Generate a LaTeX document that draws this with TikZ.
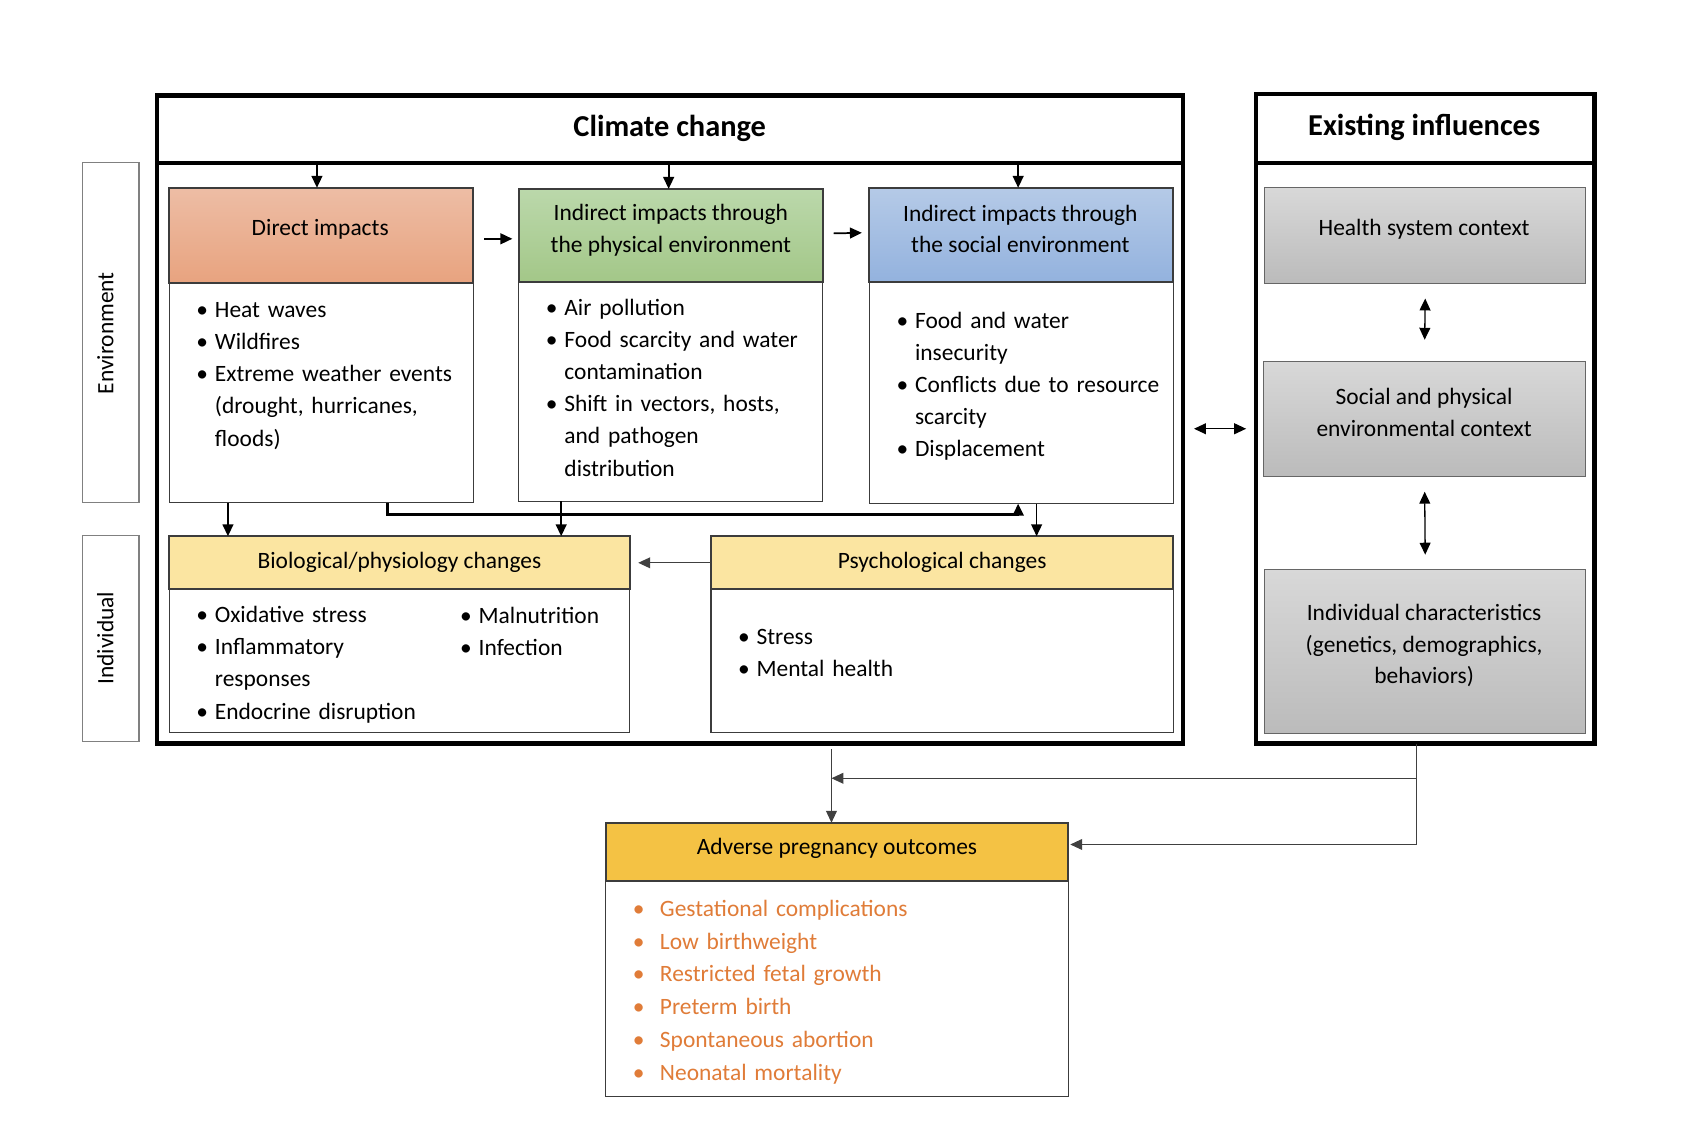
\documentclass[tikz,border=0pt]{standalone}
\usepackage{fontspec}
\setmainfont{Carlito}
\usetikzlibrary{arrows.meta,calc}
\definecolor{salT}{HTML}{EDBDA5}
\definecolor{salB}{HTML}{E8A37F}
\definecolor{grnT}{HTML}{BBD8AB}
\definecolor{grnB}{HTML}{A3C788}
\definecolor{bluT}{HTML}{B5CAE7}
\definecolor{bluB}{HTML}{93B2DE}
\definecolor{gryT}{HTML}{D8D8D8}
\definecolor{gryB}{HTML}{BBBBBB}
\definecolor{ylw}{HTML}{FBE5A1}
\definecolor{gold}{HTML}{F4C244}
\definecolor{orng}{HTML}{E07C38}
\definecolor{edge}{HTML}{3C3C3C}
\definecolor{lbl}{HTML}{808080}
\newcommand\mkbox[6]{\node[#6,anchor=north west,minimum width={(#4-#2)*0.5pt},minimum height={(#5-#3)*0.5pt},inner sep=0pt,outer sep=0pt] (#1) at (#2,#3) {};}
\newcommand\bi[1]{\par\hangindent=8.5pt\hangafter=1\noindent\makebox[8.5pt][l]{\rule{0pt}{9pt}\textbullet}#1\par}
\newcommand\obi[1]{\par\hangindent=12.5pt\hangafter=1\noindent\makebox[12.5pt][l]{\rule{0pt}{9pt}\textcolor{orng}{\textbullet}}\textcolor{orng}{#1}\par}
\tikzset{
  bigbox/.style={draw=black,line width=1.9pt,fill=white},
  card/.style={draw=edge,line width=0.55pt,fill=white},
  hdr/.style={draw=edge,line width=0.9pt},
  lblbox/.style={draw=lbl,line width=0.55pt},
  body/.style={inner sep=0pt,outer sep=0pt,anchor=north west,text width=150pt,align=left,font=\fontsize{10.8}{14.8}\selectfont},
  htext/.style={inner sep=0pt,align=center,font=\fontsize{10.8}{14.5}\selectfont},
  title/.style={inner sep=0pt,font=\fontsize{14}{16}\selectfont\bfseries},
  arr/.style={line width=0.8pt,-{Triangle[length=5.5pt,width=5pt]}},
  thk/.style={line width=1.2pt,-{Triangle[length=5.5pt,width=5pt]}},
  thin/.style={line width=0.5pt,draw=black!75,-{Triangle[length=5.5pt,width=5pt]}},
  dbl/.style={line width=0.6pt,{Triangle[length=5.5pt,width=5pt]}-{Triangle[length=5.5pt,width=5pt]}},
}
\begin{document}
\begin{tikzpicture}[x=0.5pt,y=-0.5pt]
\useasboundingbox (0,0) rectangle (1568,1048);
% side labels
\mkbox{envlbl}{76}{150}{128}{463}{lblbox}
\mkbox{indlbl}{76}{493}{128}{683}{lblbox}
\node[htext,rotate=90] (envtxt) at (97,307) {Environment};
\node[htext,rotate=90] (indtxt) at (97,588) {Individual};
% climate change frame
\mkbox{climbody}{145}{150}{1090}{685}{bigbox}
\mkbox{climhead}{145}{88}{1090}{150}{bigbox}
\node[title] (climtxt) at (617,118) {Climate change};
% existing influences frame
\mkbox{exbody}{1157}{150}{1469}{685}{bigbox}
\mkbox{exhead}{1157}{87}{1469}{150}{bigbox}
\node[title] (extxt) at (1312,117) {Existing influences};
% direct impacts
\mkbox{dirbody}{156}{261}{436}{463}{card}
\mkbox{dirhead}{156}{173}{436}{261}{hdr,top color=salT,bottom color=salB}
\node[htext] (dirt) at (295,211) {Direct impacts};
\node[body] (dirl) at (181,263) {\bi{Heat waves}\bi{Wildfires}\bi{Extreme weather events\newline(drought, hurricanes,\newline floods)}};
% physical
\mkbox{phybody}{478}{260}{758}{462}{card}
\mkbox{phyhead}{478}{174}{758}{260}{hdr,top color=grnT,bottom color=grnB}
\node[htext] (phyt) at (618,212) {Indirect impacts through\\the physical environment};
\node[body] (phyl) at (503,261) {\bi{Air pollution}\bi{Food scarcity and water\newline contamination}\bi{Shift in vectors, hosts,\newline and pathogen\newline distribution}};
% social
\mkbox{socbody}{801}{260}{1081}{464}{card}
\mkbox{sochead}{801}{173}{1081}{260}{hdr,top color=bluT,bottom color=bluB}
\node[htext] (soct) at (940,211) {Indirect impacts through\\the social environment};
\node[body] (socl) at (826,273) {\bi{Food and water\newline insecurity}\bi{Conflicts due to resource\newline scarcity}\bi{Displacement}};
% biological
\mkbox{biobody}{156}{543}{580}{675}{card}
\mkbox{biohead}{156}{494}{580}{543}{hdr,fill=ylw}
\node[htext] (biot) at (368,518) {Biological/physiology changes};
\node[body] (biol) at (181,544) {\bi{Oxidative stress}\bi{Inflammatory\newline responses}\bi{Endocrine disruption}};
\node[body] (bior) at (424,545) {\bi{Malnutrition}\bi{Infection}};
% psychological
\mkbox{psybody}{655}{543}{1081}{675}{card}
\mkbox{psyhead}{655}{494}{1081}{543}{hdr,fill=ylw}
\node[htext] (psyt) at (868,518) {Psychological changes};
\node[body] (psyl) at (680,564) {\bi{Stress}\bi{Mental health}};
% existing influences cards
\mkbox{health}{1165}{173}{1461}{261}{card,draw=black!60,top color=gryT,bottom color=gryB}
\node[htext] (healtht) at (1312,211) {Health system context};
\mkbox{spctx}{1164}{333}{1461}{439}{card,draw=black!60,top color=gryT,bottom color=gryB}
\node[htext] (spctxt) at (1312,380) {Social and physical\\environmental context};
\mkbox{indiv}{1165}{525}{1461}{676}{card,draw=black!60,top color=gryT,bottom color=gryB}
\node[htext] (indivt) at (1312,595) {Individual characteristics\\(genetics, demographics,\\behaviors)};
% adverse outcomes
\mkbox{advbody}{558}{812}{984}{1010}{card}
\mkbox{advhead}{558}{758}{984}{812}{hdr,fill=gold}
\node[htext] (advt) at (771,782) {Adverse pregnancy outcomes};
\node[body,font=\fontsize{10.8}{15.1}\selectfont] (advl) at (583,814) {\obi{Gestational complications}\obi{Low birthweight}\obi{Restricted fetal growth}\obi{Preterm birth}\obi{Spontaneous abortion}\obi{Neonatal mortality}};
% ---------- connectors ----------
\draw[arr] ($(climhead.south west)+(147,0)$) -- ($(dirhead.north west)+(136,0)$);
\draw[arr] ($(climhead.south west)+(471,0)$) -- ($(phyhead.north west)+(138,0)$);
\draw[arr] ($(climhead.south west)+(793,0)$) -- ($(sochead.north west)+(137,0)$);
\draw[arr] ($(dirhead.east)+(10,3)$) -- ($(phyhead.west)+(-6,3)$);
\draw[arr] ($(phyhead.east)+(10,-2)$) -- ($(sochead.west)+(-7,-2)$);
\coordinate (d210) at ($(dirbody.south west)+(54,0)$);
\draw[arr] (d210) -- (d210 |- biohead.north);
\coordinate (p517) at ($(phybody.south west)+(39,0)$);
\draw[arr] (p517) -- (p517 |- biohead.north);
\coordinate (d357) at ($(dirbody.south west)+(201,0)$);
\coordinate (s938) at ($(socbody.south west)+(137,0)$);
\coordinate (lvl) at (0,474);
\draw[thk] (d357) |- (lvl -| s938) -- (s938);
\coordinate (s955) at ($(socbody.south west)+(154,0)$);
\draw[arr] (s955) -- (s955 |- psyhead.north);
\draw[thin] (psyhead.west) -- ($(biohead.east)+(8,0)$);
\draw[dbl] ($(climbody.east)+(10,-22.5)$) -- ($(exbody.east)+(-321,-22.5)$);
\draw[dbl] ($(health.south)+(0,14)$) -- ($(spctx.north)+(0,-20)$);
\draw[dbl] ($(spctx.south)+(0,14)$) -- ($(indiv.north)+(0,-14)$);
% to adverse outcomes
\coordinate (c766) at ($(climbody.south west)+(621,5)$);
\draw[thin] (c766) -- (c766 |- advhead.north);
\coordinate (e1305) at ($(exbody.south)+(-8,0)$);
\coordinate (jn) at (c766 |- 0,717);
\draw[thin] (e1305) |- ($(advhead.east)+(2,-7)$);
\draw[thin] (e1305 |- jn) -- (jn);
\end{tikzpicture}
\end{document}
